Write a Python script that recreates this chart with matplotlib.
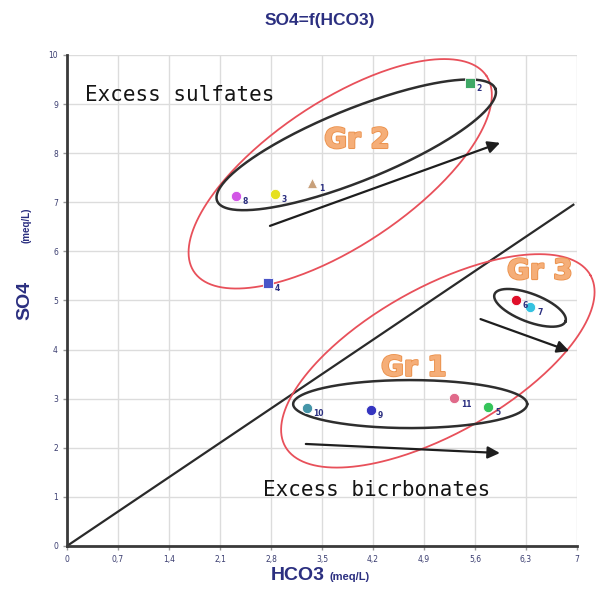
import numpy as np
import matplotlib.pyplot as plt
import matplotlib.patheffects as pe

# Points (HCO3, SO4) in meq/L
ids = ["1", "2", "3", "4", "5", "6", "7", "8", "9", "10", "11"]
hco3 = [3.36, 5.53, 2.85, 2.76, 5.78, 6.16, 6.36, 2.32, 4.17, 3.29, 5.31]
so4 = [7.39, 9.43, 7.17, 5.36, 2.83, 5.01, 4.87, 7.13, 2.77, 2.81, 3.01]
markers = ["^", "s", "o", "s", "o", "o", "o", "o", "o", "o", "o"]
colors = ["#C8A07A", "#3FA866", "#E6E020", "#4A55C8", "#35C45A", "#E0102A",
          "#35C2E0", "#D256E6", "#3535C0", "#4595A8", "#E06A8A"]

xticks = [0, 0.7, 1.4, 2.1, 2.8, 3.5, 4.2, 4.9, 5.6, 6.3, 7]
xtick_labels = ["0", "0,7", "1,4", "2,1", "2,8", "3,5", "4,2", "4,9", "5,6", "6,3", "7"]
yticks = list(range(0, 11))

# 1:1 line
diag_x = [0, 6.95]
diag_y = [0, 6.95]

navy = "#2B2F80"

fig = plt.figure(figsize=(5.97, 5.95), dpi=100)
ax = fig.add_axes([0.1122, 0.0824, 0.8543, 0.8252])
ax.set_xlim(0, 7)
ax.set_ylim(0, 10)

# pixels per data unit (used for drawing ellipses in screen shape)
sx = 0.8543 * 597 / 7
sy = 0.8252 * 595 / 10

ax.set_xticks(xticks)
ax.set_xticklabels(xtick_labels)
ax.set_yticks(yticks)
ax.tick_params(labelsize=5.5, labelcolor="#3A3D70", length=3, color="#999999", width=1)
ax.grid(True, color="#DCDCDC", lw=1)
ax.set_axisbelow(True)
for s in ["top", "right"]:
    ax.spines[s].set_visible(False)
for s in ["left", "bottom"]:
    ax.spines[s].set_color("#3a3a3a")
    ax.spines[s].set_linewidth(2)

ax.plot(diag_x, diag_y, color="#2a2a2a", lw=1.6)


def ellipse(cx, cy, a, b, ang, color, lw):
    t = np.linspace(0, 2 * np.pi, 300)
    th = np.deg2rad(ang)
    u = a * np.cos(t) * np.cos(th) - b * np.sin(t) * np.sin(th)
    v = a * np.cos(t) * np.sin(th) + b * np.sin(t) * np.cos(th)
    ax.plot(cx + u / sx, cy + v / sy, color=color, lw=lw, clip_on=False)


red = "#E8505A"
blk = "#2E2E2E"
ellipse(3.75, 7.58, 176, 72, 33.8, red, 1.3)
ellipse(3.97, 8.17, 150, 36, 22, blk, 1.8)
ellipse(5.09, 3.77, 175, 73, 29.3, red, 1.3)
ellipse(6.355, 4.85, 38, 14, -21, blk, 1.8)
ellipse(4.71, 2.89, 117, 24, 0, blk, 1.8)

arrow = dict(arrowstyle="-|>", mutation_scale=18, lw=1.6, color="#1e1e1e")
ax.annotate("", xy=(5.98, 8.23), xytext=(2.75, 6.50), arrowprops=arrow)
ax.annotate("", xy=(6.93, 3.95), xytext=(5.64, 4.64), arrowprops=arrow)
ax.annotate("", xy=(5.98, 1.89), xytext=(3.24, 2.08), arrowprops=arrow)

for i in range(len(ids)):
    ax.scatter(hco3[i], so4[i], marker=markers[i], s=55, color=colors[i],
               edgecolor="white", linewidth=0.6, zorder=5)
    ax.annotate(ids[i], (hco3[i], so4[i]), xytext=(5, -6), textcoords="offset points",
                fontsize=5.5, color=navy, fontweight="bold", zorder=6)

ax.text(0.25, 9.19, "Excess sulfates", family="DejaVu Sans Mono", fontsize=15,
        va="center", ha="left", color="#151515")
ax.text(2.69, 1.14, "Excess bicrbonates", family="DejaVu Sans Mono", fontsize=15,
        va="center", ha="left", color="#151515")

grp = dict(fontsize=20, fontweight="bold", color="#F5AE78", ha="center", va="center",
           family="DejaVu Sans",
           path_effects=[pe.withStroke(linewidth=1.6, foreground="#EC9450"), pe.Normal()])
ax.text(3.98, 8.27, "Gr 2", **grp)
ax.text(6.49, 5.60, "Gr 3", **grp)
ax.text(4.76, 3.63, "Gr 1", **grp)

fig.text(320 / 597, 1 - 20 / 595, "SO4=f(HCO3)", ha="center", va="center",
         fontsize=12.5, fontweight="bold", color=navy, family="Liberation Sans")
fig.text(325 / 597, 1 - 576 / 595, "HCO3", ha="right", va="center",
         fontsize=14, fontweight="bold", color=navy, family="Liberation Sans")
fig.text(330 / 597, 1 - 577 / 595, "(meq/L)", ha="left", va="center",
         fontsize=8, fontweight="bold", color=navy, family="Liberation Sans")
fig.text(25 / 597, 1 - 300 / 595, "SO4", ha="center", va="center", rotation=90,
         fontsize=14, fontweight="bold", color=navy, family="Liberation Sans")
fig.text(27 / 597, 1 - 225 / 595, "(meq/L)", ha="center", va="center", rotation=90,
         fontsize=7, fontweight="bold", color=navy, family="Liberation Sans")

fig.savefig("out.png", dpi=100)
